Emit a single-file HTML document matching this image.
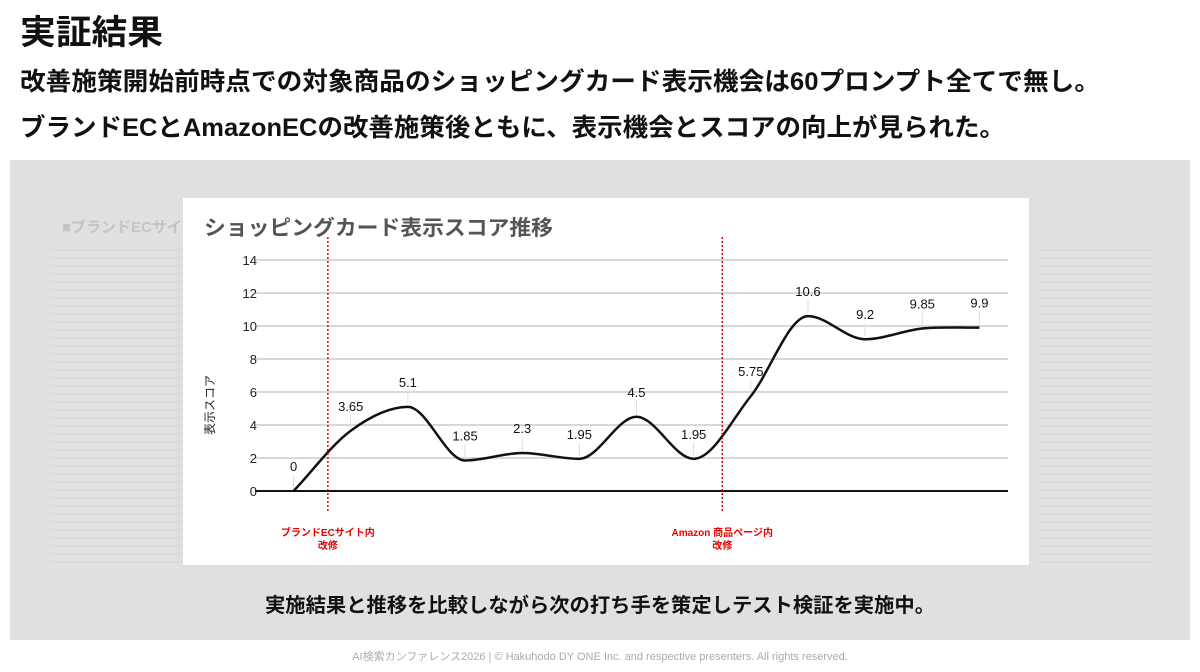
<!DOCTYPE html>
<html><head><meta charset="utf-8"><style>
html,body{margin:0;padding:0;background:#fff;}
svg{display:block;font-family:"Liberation Sans","Noto Sans CJK JP",sans-serif;}
</style></head><body>
<svg id="page" width="1200" height="672" viewBox="0 0 1200 672" xmlns="http://www.w3.org/2000/svg">
<rect width="1200" height="672" fill="#fff"/>
<text x="20" y="44" font-size="34" font-weight="bold" fill="#111" textLength="143" lengthAdjust="spacingAndGlyphs">実証結果</text>
<text x="20" y="90" font-size="25" font-weight="bold" fill="#111" textLength="1080" lengthAdjust="spacingAndGlyphs">改善施策開始前時点での対象商品のショッピングカード表示機会は60プロンプト全てで無し。</text>
<text x="20" y="136" font-size="25" font-weight="bold" fill="#111" textLength="985" lengthAdjust="spacingAndGlyphs">ブランドECとAmazonECの改善施策後ともに、表示機会とスコアの向上が見られた。</text>
<rect x="10" y="160" width="1180" height="480" fill="#e0e0e0"/>
<text x="62" y="232" font-size="15" font-weight="bold" fill="#c4c4c4">■ブランドECサイト</text>
<g id="faded"></g>
<rect x="183" y="198" width="846" height="367" fill="#fff"/>
<text x="204" y="235" font-size="21" font-weight="bold" fill="#555" textLength="349" lengthAdjust="spacingAndGlyphs">ショッピングカード表示スコア推移</text>
<text transform="translate(214,405) rotate(-90)" text-anchor="middle" font-size="12" fill="#222">表示スコア</text>
<g id="chart"></g>
<text x="265" y="612" font-size="20" font-weight="bold" fill="#111" textLength="670" lengthAdjust="spacingAndGlyphs">実施結果と推移を比較しながら次の打ち手を策定しテスト検証を実施中。</text>
<text x="600" y="660" text-anchor="middle" font-size="11" fill="#aaa">AI検索カンファレンス2026 | © Hakuhodo DY ONE Inc. and respective presenters. All rights reserved.</text>
</svg>
<script>
const categories = ["p1","p2","p3","p4","p5","p6","p7","p8","p9","p10","p11","p12","p13"];
const scores = [0,3.65,5.1,1.85,2.3,1.95,4.5,1.95,5.75,10.6,9.2,9.85,9.9];
const labels = ["0","3.65","5.1","1.85","2.3","1.95","4.5","1.95","5.75","10.6","9.2","9.85","9.9"];
const yTicks = [0,2,4,6,8,10,12,14];
const markers = [{pos:0.6, text1:"ブランドECサイト内", text2:"改修"},{pos:7.5, text1:"Amazon 商品ページ内", text2:"改修"}];

const NS="http://www.w3.org/2000/svg";
const g=document.getElementById('chart');
const X0=265,X1=1008,Y0=491,Y1=260;
const band=(X1-X0)/categories.length;
const x=i=>X0+band*(i+0.5);
const y=v=>Y0-(v/14)*(Y0-Y1);
function el(t,a){const e=document.createElementNS(NS,t);for(const k in a)e.setAttribute(k,a[k]);return e;}

yTicks.forEach(t=>{
  const l=el('line',{x1:X0-10,x2:X1,y1:y(t),y2:y(t),stroke:t===0?'#111':'#ccc','stroke-width':t===0?2:1.5});
  
  
  g.appendChild(l);
  const tx=el('text',{x:X0-8,y:y(t)+5,'text-anchor':'end','font-size':13,fill:'#222'});
  tx.textContent=t;
  
  
  g.appendChild(tx);
});

const n=scores.length, px=scores.map((_,i)=>x(i)), py=scores.map(v=>y(v));
const d=[],m=[];
for(let i=0;i<n-1;i++)d.push((py[i+1]-py[i])/(px[i+1]-px[i]));
m[0]=d[0];m[n-1]=d[n-2];
for(let i=1;i<n-1;i++)m[i]=(d[i-1]*d[i]<=0)?0:(d[i-1]+d[i])/2;
let p=`M${px[0]},${py[0]}`;
for(let i=0;i<n-1;i++){const h=(px[i+1]-px[i])/3;p+=` C${px[i]+h},${py[i]+m[i]*h} ${px[i+1]-h},${py[i+1]-m[i+1]*h} ${px[i+1]},${py[i+1]}`;}
const line=el('path',{d:p,fill:'none',stroke:'#111','stroke-width':2.5});


g.appendChild(line);

scores.forEach((v,i)=>{
  const ld=el('line',{x1:x(i),x2:x(i),y1:y(v)-3,y2:y(v)-16,stroke:'#ddd','stroke-width':1});
  
  
  g.appendChild(ld);
  const t=el('text',{x:x(i),y:y(v)-20,'text-anchor':'middle','font-size':13,fill:'#111'});
  t.textContent=labels[i];
  
  
  g.appendChild(t);
});

markers.forEach(mk=>{
  const mx=x(mk.pos);
  const l=el('line',{x1:mx,x2:mx,y1:237,y2:512,stroke:'#e00','stroke-width':1.5,'stroke-dasharray':'2,2'});
  
  
  g.appendChild(l);
  [mk.text1,mk.text2].forEach((s,k)=>{
    const t=el('text',{x:mx,y:536+k*13,'text-anchor':'middle','font-size':10,'font-weight':'bold',fill:'#e00'});
    t.textContent=s;
    
    
    g.appendChild(t);
  });
});

const f=document.getElementById('faded');
for(let r=0;r<40;r++){
  const yy=250+r*8;
  const a=el('line',{x1:50,x2:183,y1:yy,y2:yy,stroke:'#d6d6d6','stroke-width':1});
  
  
  f.appendChild(a);
  const b=el('line',{x1:1035,x2:1153,y1:yy,y2:yy,stroke:'#d6d6d6','stroke-width':1});
  
  
  f.appendChild(b);
}
</script>
</body></html>
